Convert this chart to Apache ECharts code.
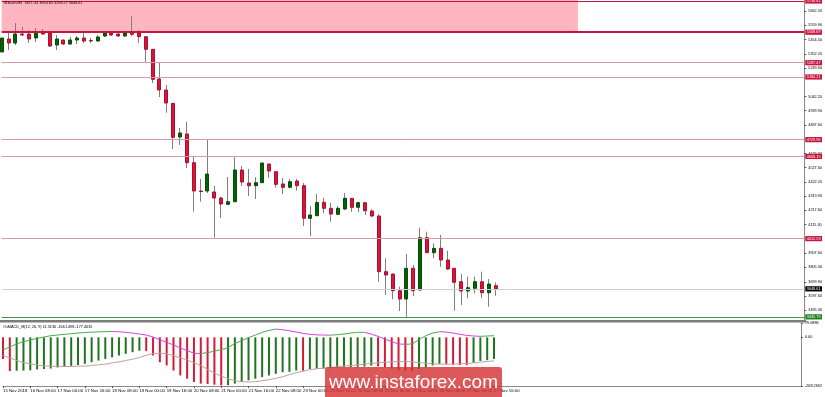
<!DOCTYPE html>
<html>
<head>
<meta charset="utf-8">
<title>#Bitcoin,H4</title>
<script src="https://cdn.jsdelivr.net/npm/echarts@6.0.0/dist/echarts.min.js"></script>
<style>
html, body { margin: 0; padding: 0; background: #fff; }
#chart { width: 825px; height: 397px; }
</style>
</head>
<body>
<div id="chart"></div>
<script>
// H4 bars, 15 Nov 2018 16:00 .. 27 Nov 16:00
const barTimes = [
	'15 Nov 16:00', '15 Nov 20:00',
	'16 Nov 00:00', '16 Nov 04:00', '16 Nov 08:00', '16 Nov 12:00', '16 Nov 16:00', '16 Nov 20:00',
	'17 Nov 00:00', '17 Nov 04:00', '17 Nov 08:00', '17 Nov 12:00', '17 Nov 16:00', '17 Nov 20:00',
	'18 Nov 00:00', '18 Nov 04:00', '18 Nov 08:00', '18 Nov 12:00', '18 Nov 16:00', '18 Nov 20:00',
	'19 Nov 00:00', '19 Nov 04:00', '19 Nov 08:00', '19 Nov 12:00', '19 Nov 16:00', '19 Nov 20:00',
	'20 Nov 00:00', '20 Nov 04:00', '20 Nov 08:00', '20 Nov 12:00', '20 Nov 16:00', '20 Nov 20:00',
	'21 Nov 00:00', '21 Nov 04:00', '21 Nov 08:00', '21 Nov 12:00', '21 Nov 16:00', '21 Nov 20:00',
	'22 Nov 00:00', '22 Nov 04:00', '22 Nov 08:00', '22 Nov 12:00', '22 Nov 16:00', '22 Nov 20:00',
	'23 Nov 00:00', '23 Nov 04:00', '23 Nov 08:00', '23 Nov 12:00', '23 Nov 16:00', '23 Nov 20:00',
	'24 Nov 00:00', '24 Nov 04:00', '24 Nov 08:00', '24 Nov 12:00', '24 Nov 16:00', '24 Nov 20:00',
	'25 Nov 00:00', '25 Nov 04:00', '25 Nov 08:00', '25 Nov 12:00', '25 Nov 16:00', '25 Nov 20:00',
	'26 Nov 00:00', '26 Nov 04:00', '26 Nov 08:00', '26 Nov 12:00', '26 Nov 16:00', '26 Nov 20:00',
	'27 Nov 00:00', '27 Nov 04:00', '27 Nov 08:00', '27 Nov 12:00', '27 Nov 16:00'
];

// one label every 4 bars
const tickLabels = [
	'15 Nov 2018', '16 Nov 08:00', '17 Nov 00:00', '17 Nov 16:00', '18 Nov 08:00',
	'19 Nov 00:00', '19 Nov 16:00', '20 Nov 08:00', '21 Nov 00:00', '21 Nov 16:00',
	'22 Nov 08:00', '23 Nov 00:00', '23 Nov 16:00', '24 Nov 08:00', '25 Nov 00:00',
	'25 Nov 16:00', '26 Nov 08:00', '27 Nov 00:00', '27 Nov 16:00'
];

const opens = [
	5365.1, 5459.3, 5430.3, 5495.5, 5495.5, 5466.5, 5510.0, 5502.8, 5415.8, 5452.0,
	5423.0, 5452.0, 5466.5, 5448.4, 5444.8, 5481.0, 5502.8, 5495.5, 5481.0, 5505.0,
	5505.0, 5475.9, 5384.6, 5169.4, 5089.7, 4993.3, 4749.1, 4770.8, 4562.8, 4357.7,
	4357.7, 4350.5, 4307.0, 4261.3, 4280.2, 4509.9, 4415.7, 4396.1, 4417.9, 4553.4,
	4497.6, 4408.5, 4384.5, 4430.2, 4396.1, 4159.9, 4178.7, 4275.8, 4232.3, 4188.8,
	4227.3, 4304.8, 4239.6, 4272.9, 4212.8, 4176.5, 3772.9, 3756.2, 3635.2, 3575.1,
	3797.5, 3640.3, 4019.3, 3910.6, 3942.5, 3857.7, 3797.5, 3700.4, 3633.0, 3652.6,
	3700.4, 3620.7, 3671.34
];
const highs = [
	5481.0, 5510.0, 5575.2, 5546.2, 5524.5, 5539.0, 5531.7, 5505.0, 5488.3, 5455.0,
	5473.8, 5481.0, 5510.0, 5466.5, 5488.3, 5510.0, 5510.0, 5502.8, 5505.0, 5625.9,
	5524.5, 5478.0, 5386.8, 5292.6, 5125.9, 4995.5, 4814.3, 4859.9, 4606.3, 4444.7,
	4727.3, 4394.0, 4316.4, 4459.2, 4604.2, 4538.9, 4517.2, 4459.2, 4563.0, 4556.0,
	4500.0, 4452.0, 4444.7, 4444.7, 4415.7, 4249.0, 4336.0, 4309.2, 4270.8, 4249.0,
	4343.2, 4307.0, 4280.2, 4275.0, 4225.2, 4188.8, 3870.0, 3758.0, 3664.2, 3901.2,
	3821.4, 4091.8, 4062.8, 3978.7, 4038.9, 3925.1, 3799.0, 3756.2, 3736.6, 3736.6,
	3772.9, 3719.9, 3694.85
];
const lows = [
	5162.1, 5379.6, 5415.8, 5481.0, 5430.3, 5437.5, 5488.3, 5401.3, 5379.6, 5415.8,
	5415.8, 5423.0, 5430.3, 5430.3, 5437.5, 5473.8, 5481.0, 5473.8, 5473.8, 5481.0,
	5430.3, 5285.3, 5140.4, 5038.9, 4925.2, 4662.1, 4691.1, 4524.4, 4207.7, 4280.2,
	4343.2, 4019.3, 4162.0, 4258.0, 4278.0, 4394.0, 4321.5, 4299.8, 4415.7, 4454.1,
	4381.6, 4336.0, 4377.3, 4359.9, 4104.1, 4031.6, 4176.5, 4196.1, 4135.3, 4183.8,
	4220.0, 4207.7, 4205.5, 4183.8, 4167.1, 3700.4, 3604.0, 3572.9, 3488.1, 3445.8,
	3596.8, 3636.7, 3908.0, 3870.0, 3809.1, 3785.2, 3490.3, 3531.6, 3580.1, 3616.3,
	3580.1, 3519.3, 3598.27
];
const closes = [
	5466.5, 5430.3, 5495.5, 5488.3, 5459.3, 5502.8, 5495.5, 5408.5, 5459.3, 5423.0,
	5452.0, 5466.5, 5444.8, 5444.8, 5473.8, 5502.8, 5488.3, 5481.0, 5502.8, 5493.3,
	5475.9, 5384.6, 5167.2, 5089.7, 4995.5, 4746.9, 4778.1, 4562.8, 4357.7, 4354.1,
	4480.9, 4307.0, 4263.5, 4280.2, 4509.9, 4422.9, 4396.1, 4417.9, 4560.6, 4502.6,
	4406.3, 4384.5, 4425.1, 4396.1, 4159.9, 4183.8, 4274.4, 4232.3, 4191.0, 4232.3,
	4304.8, 4239.6, 4272.9, 4214.2, 4176.5, 3772.9, 3749.0, 3635.2, 3575.1, 3797.5,
	3635.2, 4019.3, 3910.6, 3942.5, 3857.7, 3792.5, 3696.1, 3633.0, 3656.9, 3700.4,
	3620.7, 3683.7, 3648.61
];

// horizontal levels drawn on the chart
const zoneTop = 5734.82;
const zoneBottom = 5508.69;
const otherLevels = [ 5287.47, 5184.21, 4729.96, 4608.15, 4012.53 ];
const supportLevel = 3445.79;

const priceTicks = [
	5662.2, 5559.9, 5454.5, 5352.2, 5249.9, 5042.2, 4939.9, 4837.6, 4629.9, 4527.6,
	4422.2, 4319.9, 4217.6, 4115.3, 3907.6, 3805.3, 3699.9, 3597.6, 3495.3
];

// OsMACD_M(12, 26, 9)
const macdHistPrev = -100;
const macdHist = [
	-119, -186, -184, -183, -182, -177, -175, -172, -166, -163,
	-157, -153, -146, -137, -128, -119, -110, -100, -91, -82,
	-74, -76, -100, -137, -155, -183, -210, -228, -246, -255,
	-257, -261, -265, -264, -255, -246, -237, -228, -219, -210,
	-201, -192, -190, -183, -185, -175, -173, -172, -171, -170,
	-165, -164, -163, -161, -156, -160, -166, -173, -182, -184,
	-186, -175, -166, -155, -146, -148, -150, -152, -153, -140,
	-130, -126, -119
];
const macdMain = [
	-69.4, -52.9, -36.5, -23.8, -14.6, -5.5, 1.8, 9.1, 12.8, 16.4,
	20.1, 23.7, 26.5, 28.5, 30.2, 31.5, 32.0, 31.0, 27.4, 23.7,
	18.2, 12.8, 1.8, -12.8, -27.4, -42.0, -58.4, -73.0, -87.6, -89.4,
	-84.0, -76.7, -67.6, -56.6, -34.7, -18.3, -1.9, 12.8, 27.4, 38.3,
	45.6, 42.0, 36.5, 29.2, 21.9, 16.4, 13.5, 12.8, 12.0, 14.6,
	18.2, 23.7, 27.4, 27.8, 18.2, 5.5, -9.2, -23.8, -36.5, -38.4,
	-36.5, -12.8, 9.1, 23.7, 31.0, 29.2, 23.7, 16.4, 10.9, 7.3,
	5.5, 7.3, 9.1
];
const macdSignal = [
	-100.4, -113.2, -127.8, -138.7, -146.0, -153.3, -157.0, -158.8, -160.6, -160.6,
	-160.6, -158.8, -158.8, -155.1, -151.5, -147.9, -140.6, -135.1, -127.8, -120.5,
	-111.4, -98.6, -89.5, -87.6, -91.3, -100.4, -113.2, -124.1, -140.6, -155.1,
	-177.0, -197.1, -213.6, -228.2, -239.1, -244.6, -246.4, -244.6, -239.1, -233.6,
	-226.3, -217.2, -206.3, -195.3, -186.2, -178.9, -173.4, -169.8, -166.1, -162.4,
	-158.8, -155.1, -151.5, -147.9, -144.2, -140.6, -136.9, -135.1, -133.3, -133.3,
	-135.1, -138.7, -142.4, -146.0, -147.9, -147.9, -147.9, -146.0, -144.2, -140.6,
	-136.9, -133.3, -129.6
];
const macdTicks = [ 79.0886, 0, -268.2692 ];
const macdHeader = [ '11.3136', '-166.1498', '-177.4635' ];

const FONT = 'Liberation Sans';
const BULL = '#006400';
const BEAR = '#dc143c';
const LEVEL_RED = '#c8143c';

// 118 slots: data bars plus the empty shift area on the right
const SLOTS = 118;
const cats = barTimes.concat( new Array( SLOTS - barTimes.length ).fill( '' ) );

const wicks = opens.map( ( o, i ) => [ o, closes[ i ], lows[ i ], highs[ i ] ] );
const bodies = opens.map( ( o, i ) => [ o, closes[ i ], Math.min( o, closes[ i ] ), Math.max( o, closes[ i ] ) ] );

const histData = macdHist.map( ( v, i ) => {
	const prev = i === 0 ? macdHistPrev : macdHist[ i - 1 ];
	return { value: v, itemStyle: { color: v < prev ? '#d01c36' : '#1f751f' } };
} );

// split the main line into rising / falling runs
const runs = [];
let runStart = 0;
for ( let i = 1; i < macdMain.length - 1; i++ ) {
	const upBefore = macdMain[ i ] >= macdMain[ i - 1 ];
	const upAfter = macdMain[ i + 1 ] >= macdMain[ i ];
	if ( upBefore !== upAfter ) {
		runs.push( [ runStart, i ] );
		runStart = i;
	}
}
runs.push( [ runStart, macdMain.length - 1 ] );

const runSeries = runs.map( ( [ a, b ] ) => ( {
	type: 'line',
	xAxisIndex: 1,
	yAxisIndex: 1,
	symbol: 'none',
	silent: true,
	z: 4,
	lineStyle: { width: 1, color: macdMain[ a + 1 ] >= macdMain[ a ] ? '#46ad46' : '#d943d9' },
	data: macdMain.map( ( v, j ) => ( j >= a && j <= b ? v : null ) )
} ) );

const levelLabel = ( bg ) => ( {
	show: true,
	position: 'end',
	distance: 1,
	formatter: ( p ) => p.value.toFixed( 2 ),
	color: '#fff',
	backgroundColor: bg,
	fontFamily: FONT,
	fontSize: 3.8,
	padding: [ 0.8, 1.5, 0.4, 1.5 ]
} );

const lastClose = closes[ closes.length - 1 ];
const levelLines = [
	{ yAxis: zoneTop, lineStyle: { color: '#c2183f', width: 1, type: 'solid' }, label: levelLabel( LEVEL_RED ) },
	{ yAxis: zoneBottom, lineStyle: { color: '#c2183f', width: 2, type: 'solid' }, label: levelLabel( LEVEL_RED ) }
].concat( otherLevels.map( ( v ) => ( {
	yAxis: v, lineStyle: { color: '#d69aab', width: 1, type: 'solid' }, label: levelLabel( LEVEL_RED )
} ) ) ).concat( [
	{ yAxis: lastClose, lineStyle: { color: '#cfcfcf', width: 1, type: 'solid' }, label: levelLabel( '#000' ) },
	{ yAxis: supportLevel, lineStyle: { color: '#3c9a3c', width: 1, type: 'solid' }, label: levelLabel( '#1f7f1f' ) }
] );

const smallLabel = {
	fontFamily: FONT,
	fontSize: 3.8,
	color: '#000'
};

const chart = echarts.init( document.getElementById( 'chart' ), null, { renderer: 'canvas' } );

chart.setOption( {
	animation: false,
	backgroundColor: '#fff',
	grid: [
		{ left: 1.7, right: 20, top: 0, height: 320 },
		{ left: 1.7, right: 20, top: 323, height: 63 }
	],
	xAxis: [
		{
			type: 'category', gridIndex: 0, data: cats, boundaryGap: false,
			axisLine: { show: false }, axisTick: { show: false }, axisLabel: { show: false },
			splitLine: { show: false }
		},
		{
			type: 'category', gridIndex: 1, data: cats, boundaryGap: false,
			axisLine: { onZero: false, lineStyle: { color: '#8a8a8a', width: 1 } },
			axisTick: {
				interval: ( idx ) => idx % 4 === 0 && idx < barTimes.length,
				length: 2,
				lineStyle: { color: '#555' }
			},
			axisLabel: Object.assign( {}, smallLabel, {
				fontSize: 4.3,
				align: 'left',
				margin: 3,
				interval: ( idx ) => idx % 4 === 0 && idx < barTimes.length,
				formatter: ( v, idx ) => tickLabels[ idx / 4 ] || ''
			} ),
			splitLine: { show: false }
		}
	],
	yAxis: [
		{
			type: 'value', gridIndex: 0, position: 'right',
			min: 3422.9, max: 5741.9,
			axisLine: { show: true, lineStyle: { color: '#8a8a8a' } },
			axisTick: { show: true, length: 2, lineStyle: { color: '#555' }, customValues: priceTicks },
			axisLabel: Object.assign( {}, smallLabel, {
				margin: 4,
				customValues: priceTicks,
				formatter: ( v ) => v.toFixed( 2 )
			} ),
			splitLine: { show: false }
		},
		{
			type: 'value', gridIndex: 1, position: 'right',
			min: macdTicks[ 2 ], max: macdTicks[ 0 ],
			axisLine: { show: true, lineStyle: { color: '#8a8a8a' } },
			axisTick: { show: true, length: 2, lineStyle: { color: '#555' }, customValues: macdTicks },
			axisLabel: Object.assign( {}, smallLabel, {
				margin: 4,
				customValues: macdTicks,
				formatter: ( v ) => ( v === 0 ? '0.00' : String( v ) )
			} ),
			splitLine: { show: false }
		}
	],
	series: [
		{
			// carrier for the zone and the horizontal levels
			type: 'line',
			xAxisIndex: 0,
			yAxisIndex: 0,
			z: 1,
			silent: true,
			symbol: 'none',
			data: barTimes.map( () => null ),
			markArea: {
				silent: true,
				itemStyle: { color: '#ffb6c1' },
				data: [ [ { xAxis: 0, yAxis: 5741.9 }, { xAxis: 84, yAxis: zoneBottom } ] ]
			},
			markLine: {
				silent: true,
				symbol: [ 'none', 'none' ],
				data: levelLines
			}
		},
		{
			type: 'candlestick',
			xAxisIndex: 0,
			yAxisIndex: 0,
			z: 2,
			barWidth: 1,
			silent: true,
			itemStyle: {
				color: '#7f7f7f', color0: '#7f7f7f',
				borderColor: '#7f7f7f', borderColor0: '#7f7f7f', borderWidth: 1
			},
			data: wicks
		},
		{
			type: 'candlestick',
			xAxisIndex: 0,
			yAxisIndex: 0,
			z: 3,
			barWidth: 3.5,
			silent: true,
			itemStyle: {
				color: BULL, color0: BEAR,
				borderColor: '#0b4a0b', borderColor0: '#a8122f', borderWidth: 1
			},
			data: bodies
		},
		{
			type: 'bar',
			xAxisIndex: 1,
			yAxisIndex: 1,
			barWidth: 2,
			silent: true,
			z: 2,
			data: histData
		},
		{
			type: 'line',
			xAxisIndex: 1,
			yAxisIndex: 1,
			symbol: 'none',
			silent: true,
			z: 3,
			lineStyle: { width: 1, color: '#c4a0a0' },
			data: macdSignal
		}
	].concat( runSeries ),
	graphic: [
		{
			type: 'rect', z: 50, silent: true,
			shape: { x: 0, y: 320, width: 806, height: 2.5 },
			style: { fill: '#7c7c7c' }
		},
		{
			type: 'text', left: 3, top: 1, z: 50, silent: true,
			style: {
				text: '#Bitcoin,H4  ' + [ opens, highs, lows, closes ].map( ( a ) => a[ a.length - 1 ].toFixed( 2 ) ).join( ' ' ),
				fill: '#000', font: '3.8px "' + FONT + '"'
			}
		},
		{
			type: 'text', left: 3, top: 324.5, z: 50, silent: true,
			style: {
				text: 'OsMACD_M(12, 26, 9) ' + macdHeader.join( ' ' ),
				fill: '#000', font: '3.8px "' + FONT + '"'
			}
		},
		{
			type: 'rect', z: 100, silent: true,
			shape: { x: 325, y: 367, width: 177, height: 34, r: 3 },
			style: { fill: 'rgba(212,48,48,0.8)' }
		},
		{
			type: 'text', z: 101, silent: true,
			x: 413.5, y: 383,
			style: {
				text: 'www.instaforex.com', fill: '#fff',
				font: '19px "' + FONT + '"', align: 'center', verticalAlign: 'middle'
			}
		}
	]
} );
</script>
</body>
</html>
